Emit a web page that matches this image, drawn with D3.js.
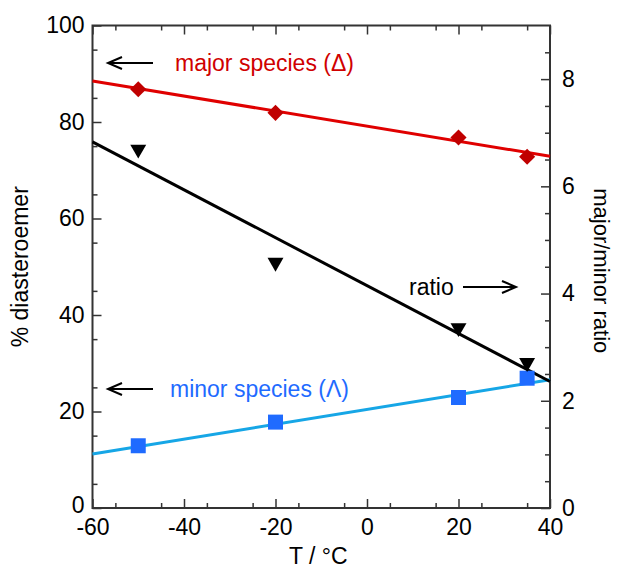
<!DOCTYPE html>
<html>
<head>
<meta charset="utf-8">
<script src="https://cdn.jsdelivr.net/npm/d3@7"></script>
<style>
  html, body { margin: 0; padding: 0; background: #fff; }
  text { font-family: "Liberation Sans", Arial, sans-serif; }
</style>
</head>
<body>
<svg id="chart" width="617" height="570"></svg>
<script>
// ---- data ----
const temps = [-50, -20, 20, 35];
const majorPct = [86.8, 81.9, 76.8, 72.8];
const minorPct = [12.9, 17.8, 22.9, 26.9];
const ratioVals = [6.69, 4.58, 3.36, 2.71];
const majorFit = [[-60, 88.5], [40, 72.9]];
const minorFit = [[-60, 11.2], [40, 26.6]];
const ratioFit = [[-60, 6.83], [40, 2.36]];
const xTicks = [-60, -40, -20, 0, 20, 40];
const yLeftTicks = [0, 20, 40, 60, 80, 100];
const yRightTicks = [0, 2, 4, 6, 8];

// ---- layout ----
const svg = d3.select("#chart");
const L = 92.5, R = 550, T = 25.5, B = 508;
const x = d3.scaleLinear().domain([-60, 40]).range([L, R]);
const yL = d3.scaleLinear().domain([0, 100]).range([B, T]);
const yR = d3.scaleLinear().domain([0, 9]).range([B, T]);

const axisColor = "#333";
const fs = 23;
const fmt = d => String(d); // plain hyphen minus

// bottom axis
const gx = svg.append("g").attr("transform", `translate(0,${B})`)
  .call(d3.axisBottom(x).tickValues(xTicks).tickFormat(fmt).tickSizeInner(-9).tickSizeOuter(0).tickPadding(11));
gx.append("g").call(d3.axisBottom(x).tickValues(d3.range(-55, 40, 10)).tickSizeInner(-5).tickSizeOuter(0).tickFormat(""));
// top axis
const gxt = svg.append("g").attr("transform", `translate(0,${T})`)
  .call(d3.axisTop(x).tickValues(xTicks).tickSizeInner(-9).tickSizeOuter(0).tickFormat(""));
gxt.append("g").call(d3.axisTop(x).tickValues(d3.range(-55, 40, 10)).tickSizeInner(-5).tickSizeOuter(0).tickFormat(""));
// left axis
const gyl = svg.append("g").attr("transform", `translate(${L},0)`)
  .call(d3.axisLeft(yL).tickValues(yLeftTicks).tickFormat(fmt).tickSizeInner(-9).tickSizeOuter(0).tickPadding(8));
gyl.append("g").call(d3.axisLeft(yL).tickValues(d3.range(5, 100, 10)).tickSizeInner(-5).tickSizeOuter(0).tickFormat(""));
// right axis
const gyr = svg.append("g").attr("transform", `translate(${R},0)`)
  .call(d3.axisRight(yR).tickValues(yRightTicks).tickFormat(fmt).tickSizeInner(-9).tickSizeOuter(0).tickPadding(12));
gyr.append("g").call(d3.axisRight(yR).tickValues(d3.range(0.5, 9, 0.5).filter(v => v % 2 !== 0)).tickSizeInner(-5).tickSizeOuter(0).tickFormat(""));

svg.selectAll(".domain").remove();
svg.selectAll(".tick line").attr("stroke", axisColor).attr("stroke-width", 1.5);
svg.selectAll(".tick text").attr("font-size", fs).attr("fill", "#000")
  .attr("font-family", "'Liberation Sans', Arial, sans-serif");
// lift the left "0" slightly so it sits beside the corner like the reference
gyl.selectAll(".tick text").filter(d => d === 0).attr("dy", "0.2em");

// frame
svg.append("rect").attr("x", L).attr("y", T).attr("width", R - L).attr("height", B - T)
  .attr("fill", "none").attr("stroke", axisColor).attr("stroke-width", 2);

// ---- fit lines ----
const lineL = d3.line().x(d => x(d[0])).y(d => yL(d[1]));
const lineR = d3.line().x(d => x(d[0])).y(d => yR(d[1]));
svg.append("path").attr("d", lineL(majorFit)).attr("stroke", "#e00000").attr("stroke-width", 3).attr("fill", "none");
svg.append("path").attr("d", lineL(minorFit)).attr("stroke", "#16a6e6").attr("stroke-width", 3).attr("fill", "none");
svg.append("path").attr("d", lineR(ratioFit)).attr("stroke", "#000").attr("stroke-width", 3).attr("fill", "none");

// ---- markers ----
svg.append("g").selectAll("path").data(temps).join("path")
  .attr("d", d3.symbol().type(d3.symbolSquare).size(130))
  .attr("transform", (d, i) => `translate(${x(d)},${yL(majorPct[i])}) rotate(45)`)
  .attr("fill", "#c00000");
svg.append("g").selectAll("path").data(temps).join("path")
  .attr("d", d3.symbol().type(d3.symbolSquare).size(225))
  .attr("transform", (d, i) => `translate(${x(d)},${yL(minorPct[i])})`)
  .attr("fill", "#1f6bff");
svg.append("g").selectAll("path").data(temps).join("path")
  .attr("d", d3.symbol().type(d3.symbolTriangle).size(110))
  .attr("transform", (d, i) => `translate(${x(d)},${yR(ratioVals[i])}) rotate(180)`)
  .attr("fill", "#000");

// ---- annotations ----
function arrow(x1, y1, x2, y2) {
  const dir = Math.sign(x2 - x1);
  svg.append("line").attr("x1", x1).attr("y1", y1).attr("x2", x2 - dir * 1).attr("y2", y2)
    .attr("stroke", "#000").attr("stroke-width", 2);
  svg.append("path")
    .attr("d", `M${x2 - dir * 14},${y2 - 6} L${x2},${y2} L${x2 - dir * 14},${y2 + 6}`)
    .attr("fill", "none").attr("stroke", "#000").attr("stroke-width", 2);
}
arrow(153, 63, 108, 63);
svg.append("text").attr("x", 175).attr("y", 71).attr("font-size", fs).attr("fill", "#d00000").text("major species (Δ)");
arrow(153, 389, 108, 389);
svg.append("text").attr("x", 170).attr("y", 397).attr("font-size", fs).attr("fill", "#1f6bff").text("minor species (Λ)");
svg.append("text").attr("x", 409).attr("y", 295).attr("font-size", fs).attr("fill", "#000").text("ratio");
arrow(463, 287, 516, 287);

// ---- axis titles ----
svg.append("text").attr("x", (L + R) / 2 - 3).attr("y", 564).attr("text-anchor", "middle")
  .attr("font-size", fs).text("T / °C");
svg.append("text").attr("transform", `translate(28,${(T + B) / 2}) rotate(-90)`).attr("text-anchor", "middle")
  .attr("font-size", fs).text("% diasteroemer");
svg.append("text").attr("transform", `translate(594,${(T + B) / 2 + 4}) rotate(90)`).attr("text-anchor", "middle")
  .attr("font-size", 22).text("major/minor ratio");
</script>
</body>
</html>
